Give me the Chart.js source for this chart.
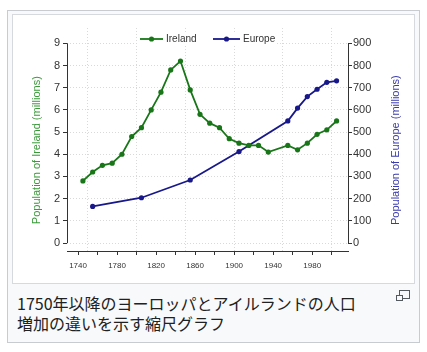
<!DOCTYPE html>
<html>
<head>
<meta charset="utf-8">
<script src="https://cdn.jsdelivr.net/npm/chart.js@4.4.1/dist/chart.umd.min.js"></script>
<style>
  body { margin: 0; background: #fff; width: 427px; height: 352px; overflow: hidden; position: relative; }
  .thumb { position: absolute; left: 7px; top: 10px; width: 411px; height: 331px; border: 1px solid #c8ccd1; background: #f8f9fa; }
  .img { position: absolute; left: 12px; top: 14px; width: 401px; height: 268px; border: 1px solid #d6d9dd; background: #fff; }
  .img canvas { display: block; }
  .cap { position: absolute; left: 17px; top: 293px; font: 16px/20px "Noto Sans CJK JP", sans-serif; color: #202122; white-space: nowrap; }
  .mag1 { position: absolute; left: 399px; top: 290px; width: 9px; height: 7px; border: 1px solid #54595d; }
  .mag2 { position: absolute; left: 396px; top: 295px; width: 5px; height: 4px; border: 1px solid #54595d; background: #f8f9fa; }
</style>
</head>
<body>
<div class="thumb"></div>
<div class="img"><canvas id="popChart" width="401" height="268"></canvas></div>
<div class="cap">1750年以降のヨーロッパとアイルランドの人口<br>増加の違いを示す縮尺グラフ</div>
<div class="mag1"></div>
<div class="mag2"></div>
<script>
'use strict';

// population of Ireland, millions
var yearsIreland = [1745, 1755, 1765, 1775, 1785, 1795, 1805, 1815, 1825, 1835, 1845, 1855, 1865,
                    1875, 1885, 1895, 1905, 1915, 1925, 1935, 1955, 1965, 1975, 1985, 1995, 2005];
var ireland = [2.8, 3.2, 3.5, 3.6, 4.0, 4.8, 5.2, 6.0, 6.8, 7.8, 8.2, 6.9, 5.8,
               5.4, 5.2, 4.7, 4.5, 4.4, 4.4, 4.1, 4.4, 4.2, 4.5, 4.9, 5.1, 5.5];

// population of Europe, millions
var yearsEurope = [1755, 1805, 1855, 1905, 1955, 1965, 1975, 1985, 1995, 2005];
var europe = [165, 204, 284, 412, 550, 608, 660, 693, 724, 731];

var xTicks = [1740, 1760, 1780, 1800, 1820, 1840, 1860, 1880, 1900, 1920, 1940, 1960, 1980, 2000];
var xLabels = [1740, 1780, 1820, 1860, 1900, 1940, 1980];
var gridYears = [1750, 1800, 1850, 1900, 1950, 2000];
var irelandTicks = [0, 1, 2, 3, 4, 5, 6, 7, 8, 9];
var europeTicks = [0, 100, 200, 300, 400, 500, 600, 700, 800, 900];

var green = 'rgb(24,118,24)';
var blue = 'rgb(24,24,138)';
var font = '"Liberation Sans", Arial, sans-serif';

// legend inside the plot, over the grid: [line start, line end, text x]
var legendSpots = [[127, 150, 153], [200, 227, 230]];

var legendInPlot = {
  id: 'legendInPlot',
  beforeDatasetsDraw: function (chart) {
    var ctx = chart.ctx, ly = 24;
    ctx.save();
    ctx.fillStyle = '#fff';
    ctx.fillRect(124, 17, 140, 14);
    ctx.font = '10px ' + font;
    ctx.textBaseline = 'middle';
    chart.data.datasets.forEach(function (ds, i) {
      var s = legendSpots[i];
      ctx.strokeStyle = ds.borderColor;
      ctx.fillStyle = ds.borderColor;
      ctx.lineWidth = 1.8;
      ctx.beginPath(); ctx.moveTo(s[0], ly); ctx.lineTo(s[1], ly); ctx.stroke();
      ctx.beginPath(); ctx.arc((s[0] + s[1]) / 2, ly, 2.6, 0, Math.PI * 2); ctx.fill();
      ctx.fillStyle = '#333';
      ctx.fillText(ds.label, s[2], ly);
    });
    ctx.restore();
  }
};

// axis lines only from first to last tick, and titles reading bottom to top
var axisExtras = {
  id: 'axisExtras',
  afterDraw: function (chart) {
    var ctx = chart.ctx, area = chart.chartArea;
    var y = chart.scales.y, y2 = chart.scales.y2;
    ctx.save();
    ctx.strokeStyle = '#333';
    ctx.lineWidth = 1;
    ctx.beginPath();
    ctx.moveTo(area.left + 0.5, y.getPixelForValue(0));
    ctx.lineTo(area.left + 0.5, y.getPixelForValue(9));
    ctx.moveTo(area.right + 0.5, y2.getPixelForValue(0));
    ctx.lineTo(area.right + 0.5, y2.getPixelForValue(900));
    ctx.stroke();

    var mid = y.getPixelForValue(4.5) + 7;
    ctx.font = '11px ' + font;
    ctx.textAlign = 'center';
    ctx.textBaseline = 'middle';
    [[24, 'rgb(58,154,58)', 'Population of Ireland (millions)'],
     [383, 'rgb(58,58,170)', 'Population of Europe (millions)']].forEach(function (t) {
      ctx.save();
      ctx.translate(t[0], mid);
      ctx.rotate(-Math.PI / 2);
      ctx.fillStyle = t[1];
      ctx.fillText(t[2], 0, 0);
      ctx.restore();
    });
    ctx.restore();
  }
};

var ctx = document.getElementById('popChart').getContext('2d');
new Chart(ctx, {
  type: 'line',
  data: {
    datasets: [{
      label: 'Ireland',
      data: yearsIreland.map(function (x, i) { return {x: x, y: ireland[i]}; }),
      borderColor: green,
      backgroundColor: green,
      borderWidth: 1.8,
      pointRadius: 2.6,
      pointBorderWidth: 0,
      yAxisID: 'y'
    }, {
      label: 'Europe',
      data: yearsEurope.map(function (x, i) { return {x: x, y: europe[i]}; }),
      borderColor: blue,
      backgroundColor: blue,
      borderWidth: 1.8,
      pointRadius: 2.6,
      pointBorderWidth: 0,
      yAxisID: 'y2'
    }]
  },
  options: {
    responsive: false,
    animation: false,
    layout: { padding: { top: 13, left: 0, right: 0, bottom: 0 } },
    plugins: {
      tooltip: { enabled: false },
      legend: { display: false }
    },
    scales: {
      x: {
        type: 'linear',
        position: 'bottom',
        min: 1728.7,
        max: 2016.7,
        afterBuildTicks: function (s) { s.ticks = xTicks.map(function (v) { return {value: v}; }); },
        afterFit: function (s) { s.height = 32; },
        ticks: {
          autoSkip: false,
          maxRotation: 0,
          padding: 6,
          color: '#333',
          font: { family: font, size: 8 },
          callback: function (v) { return xLabels.indexOf(v) >= 0 ? String(v) : ''; }
        },
        grid: { drawOnChartArea: false, tickLength: 4, tickColor: '#333' },
        border: { display: true, color: '#333', width: 1 }
      },
      xg: {
        type: 'linear',
        position: 'top',
        min: 1728.7,
        max: 2016.7,
        afterBuildTicks: function (s) { s.ticks = gridYears.map(function (v) { return {value: v}; }); },
        afterFit: function (s) { s.height = 0; },
        ticks: { display: false },
        grid: { color: '#d9d9d9', drawTicks: false },
        border: { display: false, dash: [1, 2] }
      },
      y: {
        position: 'left',
        min: -0.36,
        max: 9.69,
        afterBuildTicks: function (s) { s.ticks = irelandTicks.map(function (v) { return {value: v}; }); },
        afterFit: function (s) { s.width = 54; },
        ticks: { padding: 3, color: '#333', font: { family: font, size: 11 } },
        grid: { color: '#d9d9d9', tickLength: 4, tickColor: '#333' },
        border: { display: false, dash: [1, 2] }
      },
      y2: {
        position: 'right',
        min: -36,
        max: 969,
        afterBuildTicks: function (s) { s.ticks = europeTicks.map(function (v) { return {value: v}; }); },
        afterFit: function (s) { s.width = 66; },
        ticks: { padding: 1, color: '#333', font: { family: font, size: 11 } },
        grid: { drawOnChartArea: false, tickLength: 4, tickColor: '#333' },
        border: { display: false }
      }
    }
  },
  plugins: [legendInPlot, axisExtras]
});
</script>
</body>
</html>
